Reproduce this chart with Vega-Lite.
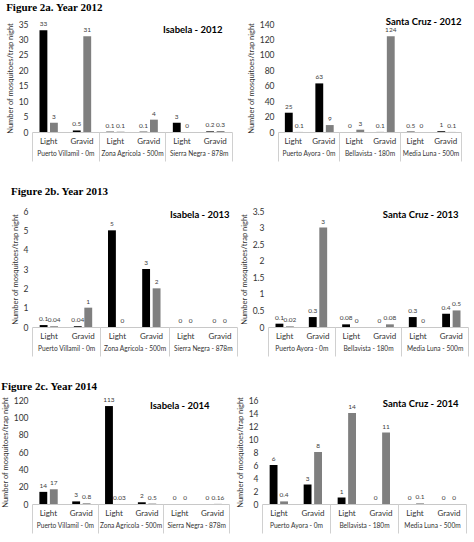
{
  "$schema": "https://vega.github.io/schema/vega-lite/v6.json",
  "padding": {"left": 1, "top": 1, "right": 2, "bottom": 2},
  "background": "white",
  "config": {
    "font": "Lato",
    "view": {"stroke": null},
    "axis": {"grid": false, "labelFont": "Lato", "titleFont": "Lato", "labelColor": "#333333", "titleColor": "#333333"},
    "axisY": {"domain": false, "ticks": false, "labelFontSize": 8.5, "titleFontSize": 7.5, "titleFontWeight": "normal", "labelPadding": 4, "titlePadding": 4, "labelOverlap": false, "format": "~r"},
    "title": {"font": "Lato", "fontSize": 9.5, "fontWeight": "bold", "color": "#000000"}
  },
  "datasets": {
    "i12": [
      {"site": "Puerto Villamil - 0m", "trap": "Light", "cat": "Puerto Villamil - 0m|Light", "s": "s1", "v": 33},
      {"site": "Puerto Villamil - 0m", "trap": "Light", "cat": "Puerto Villamil - 0m|Light", "s": "s2", "v": 3},
      {"site": "Puerto Villamil - 0m", "trap": "Gravid", "cat": "Puerto Villamil - 0m|Gravid", "s": "s1", "v": 0.5},
      {"site": "Puerto Villamil - 0m", "trap": "Gravid", "cat": "Puerto Villamil - 0m|Gravid", "s": "s2", "v": 31},
      {"site": "Zona Agricola - 500m", "trap": "Light", "cat": "Zona Agricola - 500m|Light", "s": "s1", "v": 0.1},
      {"site": "Zona Agricola - 500m", "trap": "Light", "cat": "Zona Agricola - 500m|Light", "s": "s2", "v": 0.1},
      {"site": "Zona Agricola - 500m", "trap": "Gravid", "cat": "Zona Agricola - 500m|Gravid", "s": "s1", "v": 0.1},
      {"site": "Zona Agricola - 500m", "trap": "Gravid", "cat": "Zona Agricola - 500m|Gravid", "s": "s2", "v": 4},
      {"site": "Sierra Negra - 878m", "trap": "Light", "cat": "Sierra Negra - 878m|Light", "s": "s1", "v": 3},
      {"site": "Sierra Negra - 878m", "trap": "Light", "cat": "Sierra Negra - 878m|Light", "s": "s2", "v": 0},
      {"site": "Sierra Negra - 878m", "trap": "Gravid", "cat": "Sierra Negra - 878m|Gravid", "s": "s1", "v": 0.2},
      {"site": "Sierra Negra - 878m", "trap": "Gravid", "cat": "Sierra Negra - 878m|Gravid", "s": "s2", "v": 0.3}
    ],
    "s12": [
      {"site": "Puerto Ayora - 0m", "trap": "Light", "cat": "Puerto Ayora - 0m|Light", "s": "s1", "v": 25},
      {"site": "Puerto Ayora - 0m", "trap": "Light", "cat": "Puerto Ayora - 0m|Light", "s": "s2", "v": 0.1},
      {"site": "Puerto Ayora - 0m", "trap": "Gravid", "cat": "Puerto Ayora - 0m|Gravid", "s": "s1", "v": 63},
      {"site": "Puerto Ayora - 0m", "trap": "Gravid", "cat": "Puerto Ayora - 0m|Gravid", "s": "s2", "v": 9},
      {"site": "Bellavista - 180m", "trap": "Light", "cat": "Bellavista - 180m|Light", "s": "s1", "v": 0},
      {"site": "Bellavista - 180m", "trap": "Light", "cat": "Bellavista - 180m|Light", "s": "s2", "v": 3},
      {"site": "Bellavista - 180m", "trap": "Gravid", "cat": "Bellavista - 180m|Gravid", "s": "s1", "v": 0.1},
      {"site": "Bellavista - 180m", "trap": "Gravid", "cat": "Bellavista - 180m|Gravid", "s": "s2", "v": 124},
      {"site": "Media Luna - 500m", "trap": "Light", "cat": "Media Luna - 500m|Light", "s": "s1", "v": 0.5},
      {"site": "Media Luna - 500m", "trap": "Light", "cat": "Media Luna - 500m|Light", "s": "s2", "v": 0},
      {"site": "Media Luna - 500m", "trap": "Gravid", "cat": "Media Luna - 500m|Gravid", "s": "s1", "v": 1},
      {"site": "Media Luna - 500m", "trap": "Gravid", "cat": "Media Luna - 500m|Gravid", "s": "s2", "v": 0.1}
    ],
    "i13": [
      {"site": "Puerto Villamil - 0m", "trap": "Light", "cat": "Puerto Villamil - 0m|Light", "s": "s1", "v": 0.1},
      {"site": "Puerto Villamil - 0m", "trap": "Light", "cat": "Puerto Villamil - 0m|Light", "s": "s2", "v": 0.04},
      {"site": "Puerto Villamil - 0m", "trap": "Gravid", "cat": "Puerto Villamil - 0m|Gravid", "s": "s1", "v": 0.04},
      {"site": "Puerto Villamil - 0m", "trap": "Gravid", "cat": "Puerto Villamil - 0m|Gravid", "s": "s2", "v": 1},
      {"site": "Zona Agricola - 500m", "trap": "Light", "cat": "Zona Agricola - 500m|Light", "s": "s1", "v": 5},
      {"site": "Zona Agricola - 500m", "trap": "Light", "cat": "Zona Agricola - 500m|Light", "s": "s2", "v": 0},
      {"site": "Zona Agricola - 500m", "trap": "Gravid", "cat": "Zona Agricola - 500m|Gravid", "s": "s1", "v": 3},
      {"site": "Zona Agricola - 500m", "trap": "Gravid", "cat": "Zona Agricola - 500m|Gravid", "s": "s2", "v": 2},
      {"site": "Sierra Negra - 878m", "trap": "Light", "cat": "Sierra Negra - 878m|Light", "s": "s1", "v": 0},
      {"site": "Sierra Negra - 878m", "trap": "Light", "cat": "Sierra Negra - 878m|Light", "s": "s2", "v": 0},
      {"site": "Sierra Negra - 878m", "trap": "Gravid", "cat": "Sierra Negra - 878m|Gravid", "s": "s1", "v": 0},
      {"site": "Sierra Negra - 878m", "trap": "Gravid", "cat": "Sierra Negra - 878m|Gravid", "s": "s2", "v": 0}
    ],
    "s13": [
      {"site": "Puerto Ayora - 0m", "trap": "Light", "cat": "Puerto Ayora - 0m|Light", "s": "s1", "v": 0.1},
      {"site": "Puerto Ayora - 0m", "trap": "Light", "cat": "Puerto Ayora - 0m|Light", "s": "s2", "v": 0.02},
      {"site": "Puerto Ayora - 0m", "trap": "Gravid", "cat": "Puerto Ayora - 0m|Gravid", "s": "s1", "v": 0.3},
      {"site": "Puerto Ayora - 0m", "trap": "Gravid", "cat": "Puerto Ayora - 0m|Gravid", "s": "s2", "v": 3},
      {"site": "Bellavista - 180m", "trap": "Light", "cat": "Bellavista - 180m|Light", "s": "s1", "v": 0.08},
      {"site": "Bellavista - 180m", "trap": "Light", "cat": "Bellavista - 180m|Light", "s": "s2", "v": 0},
      {"site": "Bellavista - 180m", "trap": "Gravid", "cat": "Bellavista - 180m|Gravid", "s": "s1", "v": 0},
      {"site": "Bellavista - 180m", "trap": "Gravid", "cat": "Bellavista - 180m|Gravid", "s": "s2", "v": 0.08},
      {"site": "Media Luna - 500m", "trap": "Light", "cat": "Media Luna - 500m|Light", "s": "s1", "v": 0.3},
      {"site": "Media Luna - 500m", "trap": "Light", "cat": "Media Luna - 500m|Light", "s": "s2", "v": 0},
      {"site": "Media Luna - 500m", "trap": "Gravid", "cat": "Media Luna - 500m|Gravid", "s": "s1", "v": 0.4},
      {"site": "Media Luna - 500m", "trap": "Gravid", "cat": "Media Luna - 500m|Gravid", "s": "s2", "v": 0.5}
    ],
    "i14": [
      {"site": "Puerto Villamil - 0m", "trap": "Light", "cat": "Puerto Villamil - 0m|Light", "s": "s1", "v": 14},
      {"site": "Puerto Villamil - 0m", "trap": "Light", "cat": "Puerto Villamil - 0m|Light", "s": "s2", "v": 17},
      {"site": "Puerto Villamil - 0m", "trap": "Gravid", "cat": "Puerto Villamil - 0m|Gravid", "s": "s1", "v": 3},
      {"site": "Puerto Villamil - 0m", "trap": "Gravid", "cat": "Puerto Villamil - 0m|Gravid", "s": "s2", "v": 0.8},
      {"site": "Zona Agricola - 500m", "trap": "Light", "cat": "Zona Agricola - 500m|Light", "s": "s1", "v": 113},
      {"site": "Zona Agricola - 500m", "trap": "Light", "cat": "Zona Agricola - 500m|Light", "s": "s2", "v": 0.03},
      {"site": "Zona Agricola - 500m", "trap": "Gravid", "cat": "Zona Agricola - 500m|Gravid", "s": "s1", "v": 2},
      {"site": "Zona Agricola - 500m", "trap": "Gravid", "cat": "Zona Agricola - 500m|Gravid", "s": "s2", "v": 0.5},
      {"site": "Sierra Negra - 878m", "trap": "Light", "cat": "Sierra Negra - 878m|Light", "s": "s1", "v": 0},
      {"site": "Sierra Negra - 878m", "trap": "Light", "cat": "Sierra Negra - 878m|Light", "s": "s2", "v": 0},
      {"site": "Sierra Negra - 878m", "trap": "Gravid", "cat": "Sierra Negra - 878m|Gravid", "s": "s1", "v": 0},
      {"site": "Sierra Negra - 878m", "trap": "Gravid", "cat": "Sierra Negra - 878m|Gravid", "s": "s2", "v": 0.16}
    ],
    "s14": [
      {"site": "Puerto Ayora - 0m", "trap": "Light", "cat": "Puerto Ayora - 0m|Light", "s": "s1", "v": 6},
      {"site": "Puerto Ayora - 0m", "trap": "Light", "cat": "Puerto Ayora - 0m|Light", "s": "s2", "v": 0.4},
      {"site": "Puerto Ayora - 0m", "trap": "Gravid", "cat": "Puerto Ayora - 0m|Gravid", "s": "s1", "v": 3},
      {"site": "Puerto Ayora - 0m", "trap": "Gravid", "cat": "Puerto Ayora - 0m|Gravid", "s": "s2", "v": 8},
      {"site": "Bellavista - 180m", "trap": "Light", "cat": "Bellavista - 180m|Light", "s": "s1", "v": 1},
      {"site": "Bellavista - 180m", "trap": "Light", "cat": "Bellavista - 180m|Light", "s": "s2", "v": 14},
      {"site": "Bellavista - 180m", "trap": "Gravid", "cat": "Bellavista - 180m|Gravid", "s": "s1", "v": 0},
      {"site": "Bellavista - 180m", "trap": "Gravid", "cat": "Bellavista - 180m|Gravid", "s": "s2", "v": 11},
      {"site": "Media Luna - 500m", "trap": "Light", "cat": "Media Luna - 500m|Light", "s": "s1", "v": 0},
      {"site": "Media Luna - 500m", "trap": "Light", "cat": "Media Luna - 500m|Light", "s": "s2", "v": 0.1},
      {"site": "Media Luna - 500m", "trap": "Gravid", "cat": "Media Luna - 500m|Gravid", "s": "s1", "v": 0},
      {"site": "Media Luna - 500m", "trap": "Gravid", "cat": "Media Luna - 500m|Gravid", "s": "s2", "v": 0}
    ]
  },
  "vconcat": [
    {
      "title": {"text": "Figure 2a. Year 2012", "anchor": "start", "font": "Liberation Serif", "fontSize": 11, "fontWeight": "bold", "offset": 4},
      "spacing": 14,
      "hconcat": [
        {
          "width": 200, "height": 108,
          "data": {"name": "i12"},
          "title": {"text": "Isabela - 2012", "anchor": "end", "offset": -14, "dx": -10},
          "layer": [
            {
              "encoding": {
                "x": {"field": "cat", "type": "nominal", "sort": null, "scale": {"paddingInner": 0.45, "paddingOuter": 0.225}, "axis": {"title": null, "labelExpr": "split(datum.value,'|')[1]", "labelAngle": 0, "ticks": false, "domainColor": "#c8c8c8", "labelPadding": 5, "labelFontSize": 8}},
                "xOffset": {"field": "s", "type": "nominal", "scale": {"paddingInner": 0.25}},
                "y": {"field": "v", "type": "quantitative", "scale": {"domain": [0, 35], "nice": false}, "axis": {"title": "Number of mosquitoes/trap night", "values": [0, 5, 10, 15, 20, 25, 30, 35]}}
              },
              "layer": [
                {"mark": {"type": "bar"},
                 "encoding": {"color": {"field": "s", "type": "nominal", "scale": {"domain": ["s1", "s2"], "range": ["#000000", "#7f7f7f"]}, "legend": null}}},
                {"mark": {"type": "text", "dy": -6, "fontSize": 6.5, "color": "#404040"},
                 "encoding": {"text": {"field": "v", "type": "nominal"}}}
              ]
            },
            {"mark": {"type": "text"},
             "encoding": {
               "x": {"field": "site", "type": "nominal", "sort": null, "scale": {"paddingInner": 0, "paddingOuter": 0}, "axis": {"title": null, "orient": "bottom", "domain": false, "tickBand": "extent", "tickSize": 29, "tickColor": "#d0d0d0", "labelPadding": -11, "labelFontSize": 6.6, "labelAngle": 0}},
               "text": {"value": ""}}}
          ],
          "resolve": {"scale": {"x": "independent"}}
        },
        {
          "width": 183, "height": 108,
          "data": {"name": "s12"},
          "title": {"text": "Santa Cruz - 2012", "anchor": "end", "offset": -6, "dx": 0},
          "layer": [
            {
              "encoding": {
                "x": {"field": "cat", "type": "nominal", "sort": null, "scale": {"paddingInner": 0.45, "paddingOuter": 0.225}, "axis": {"title": null, "labelExpr": "split(datum.value,'|')[1]", "labelAngle": 0, "ticks": false, "domainColor": "#c8c8c8", "labelPadding": 5, "labelFontSize": 8}},
                "xOffset": {"field": "s", "type": "nominal", "scale": {"paddingInner": 0.25}},
                "y": {"field": "v", "type": "quantitative", "scale": {"domain": [0, 140], "nice": false}, "axis": {"title": "Number of mosquitoes/trap night", "values": [0, 20, 40, 60, 80, 100, 120, 140]}}
              },
              "layer": [
                {"mark": {"type": "bar"},
                 "encoding": {"color": {"field": "s", "type": "nominal", "scale": {"domain": ["s1", "s2"], "range": ["#000000", "#7f7f7f"]}, "legend": null}}},
                {"mark": {"type": "text", "dy": -6, "fontSize": 6.5, "color": "#404040"},
                 "encoding": {"text": {"field": "v", "type": "nominal"}}}
              ]
            },
            {"mark": {"type": "text"},
             "encoding": {
               "x": {"field": "site", "type": "nominal", "sort": null, "scale": {"paddingInner": 0, "paddingOuter": 0}, "axis": {"title": null, "orient": "bottom", "domain": false, "tickBand": "extent", "tickSize": 29, "tickColor": "#d0d0d0", "labelPadding": -11, "labelFontSize": 6.6, "labelAngle": 0}},
               "text": {"value": ""}}}
          ],
          "resolve": {"scale": {"x": "independent"}}
        }
      ]
    },
    {
      "title": {"text": "Figure 2b. Year 2013", "anchor": "start", "font": "Liberation Serif", "fontSize": 11, "fontWeight": "bold", "offset": 10},
      "spacing": 2,
      "hconcat": [
        {
          "width": 205, "height": 116,
          "data": {"name": "i13"},
          "title": {"text": "Isabela - 2013", "anchor": "end", "offset": -12, "dx": -8},
          "layer": [
            {
              "encoding": {
                "x": {"field": "cat", "type": "nominal", "sort": null, "scale": {"paddingInner": 0.45, "paddingOuter": 0.225}, "axis": {"title": null, "labelExpr": "split(datum.value,'|')[1]", "labelAngle": 0, "ticks": false, "domainColor": "#c8c8c8", "labelPadding": 5, "labelFontSize": 8}},
                "xOffset": {"field": "s", "type": "nominal", "scale": {"paddingInner": 0.25}},
                "y": {"field": "v", "type": "quantitative", "scale": {"domain": [0, 6], "nice": false}, "axis": {"title": "Number of mosquitoes/trap night", "values": [0, 1, 2, 3, 4, 5, 6]}}
              },
              "layer": [
                {"mark": {"type": "bar"},
                 "encoding": {"color": {"field": "s", "type": "nominal", "scale": {"domain": ["s1", "s2"], "range": ["#000000", "#7f7f7f"]}, "legend": null}}},
                {"mark": {"type": "text", "dy": -6, "fontSize": 6.5, "color": "#404040"},
                 "encoding": {"text": {"field": "v", "type": "nominal"}}}
              ]
            },
            {"mark": {"type": "text"},
             "encoding": {
               "x": {"field": "site", "type": "nominal", "sort": null, "scale": {"paddingInner": 0, "paddingOuter": 0}, "axis": {"title": null, "orient": "bottom", "domain": false, "tickBand": "extent", "tickSize": 29, "tickColor": "#d0d0d0", "labelPadding": -11, "labelFontSize": 6.6, "labelAngle": 0}},
               "text": {"value": ""}}}
          ],
          "resolve": {"scale": {"x": "independent"}}
        },
        {
          "width": 200, "height": 116,
          "data": {"name": "s13"},
          "title": {"text": "Santa Cruz - 2013", "anchor": "end", "offset": -12, "dx": -10},
          "layer": [
            {
              "encoding": {
                "x": {"field": "cat", "type": "nominal", "sort": null, "scale": {"paddingInner": 0.45, "paddingOuter": 0.225}, "axis": {"title": null, "labelExpr": "split(datum.value,'|')[1]", "labelAngle": 0, "ticks": false, "domainColor": "#c8c8c8", "labelPadding": 5, "labelFontSize": 8}},
                "xOffset": {"field": "s", "type": "nominal", "scale": {"paddingInner": 0.25}},
                "y": {"field": "v", "type": "quantitative", "scale": {"domain": [0, 3.5], "nice": false}, "axis": {"title": "Number of mosquitoes/trap night", "values": [0, 0.5, 1, 1.5, 2, 2.5, 3, 3.5]}}
              },
              "layer": [
                {"mark": {"type": "bar"},
                 "encoding": {"color": {"field": "s", "type": "nominal", "scale": {"domain": ["s1", "s2"], "range": ["#000000", "#7f7f7f"]}, "legend": null}}},
                {"mark": {"type": "text", "dy": -6, "fontSize": 6.5, "color": "#404040"},
                 "encoding": {"text": {"field": "v", "type": "nominal"}}}
              ]
            },
            {"mark": {"type": "text"},
             "encoding": {
               "x": {"field": "site", "type": "nominal", "sort": null, "scale": {"paddingInner": 0, "paddingOuter": 0}, "axis": {"title": null, "orient": "bottom", "domain": false, "tickBand": "extent", "tickSize": 29, "tickColor": "#d0d0d0", "labelPadding": -11, "labelFontSize": 6.6, "labelAngle": 0}},
               "text": {"value": ""}}}
          ],
          "resolve": {"scale": {"x": "independent"}}
        }
      ]
    },
    {
      "title": {"text": "Figure 2c. Year 2014", "anchor": "start", "font": "Liberation Serif", "fontSize": 11, "fontWeight": "bold", "offset": 4},
      "spacing": 6,
      "hconcat": [
        {
          "width": 197, "height": 104,
          "data": {"name": "i14"},
          "title": {"text": "Isabela - 2014", "anchor": "end", "offset": -14, "dx": -20},
          "layer": [
            {
              "encoding": {
                "x": {"field": "cat", "type": "nominal", "sort": null, "scale": {"paddingInner": 0.45, "paddingOuter": 0.225}, "axis": {"title": null, "labelExpr": "split(datum.value,'|')[1]", "labelAngle": 0, "ticks": false, "domainColor": "#c8c8c8", "labelPadding": 5, "labelFontSize": 8}},
                "xOffset": {"field": "s", "type": "nominal", "scale": {"paddingInner": 0.25}},
                "y": {"field": "v", "type": "quantitative", "scale": {"domain": [0, 120], "nice": false}, "axis": {"title": "Number of mosquitoes/trap night", "values": [0, 20, 40, 60, 80, 100, 120]}}
              },
              "layer": [
                {"mark": {"type": "bar"},
                 "encoding": {"color": {"field": "s", "type": "nominal", "scale": {"domain": ["s1", "s2"], "range": ["#000000", "#7f7f7f"]}, "legend": null}}},
                {"mark": {"type": "text", "dy": -6, "fontSize": 6.5, "color": "#404040"},
                 "encoding": {"text": {"field": "v", "type": "nominal"}}}
              ]
            },
            {"mark": {"type": "text"},
             "encoding": {
               "x": {"field": "site", "type": "nominal", "sort": null, "scale": {"paddingInner": 0, "paddingOuter": 0}, "axis": {"title": null, "orient": "bottom", "domain": false, "tickBand": "extent", "tickSize": 29, "tickColor": "#d0d0d0", "labelPadding": -11, "labelFontSize": 6.6, "labelAngle": 0}},
               "text": {"value": ""}}}
          ],
          "resolve": {"scale": {"x": "independent"}}
        },
        {
          "width": 204, "height": 104,
          "data": {"name": "s14"},
          "title": {"text": "Santa Cruz - 2014", "anchor": "end", "offset": -12, "dx": -8},
          "layer": [
            {
              "encoding": {
                "x": {"field": "cat", "type": "nominal", "sort": null, "scale": {"paddingInner": 0.45, "paddingOuter": 0.225}, "axis": {"title": null, "labelExpr": "split(datum.value,'|')[1]", "labelAngle": 0, "ticks": false, "domainColor": "#c8c8c8", "labelPadding": 5, "labelFontSize": 8}},
                "xOffset": {"field": "s", "type": "nominal", "scale": {"paddingInner": 0.25}},
                "y": {"field": "v", "type": "quantitative", "scale": {"domain": [0, 16], "nice": false}, "axis": {"title": "Number of mosquitoes/trap night", "values": [0, 2, 4, 6, 8, 10, 12, 14, 16]}}
              },
              "layer": [
                {"mark": {"type": "bar"},
                 "encoding": {"color": {"field": "s", "type": "nominal", "scale": {"domain": ["s1", "s2"], "range": ["#000000", "#7f7f7f"]}, "legend": null}}},
                {"mark": {"type": "text", "dy": -6, "fontSize": 6.5, "color": "#404040"},
                 "encoding": {"text": {"field": "v", "type": "nominal"}}}
              ]
            },
            {"mark": {"type": "text"},
             "encoding": {
               "x": {"field": "site", "type": "nominal", "sort": null, "scale": {"paddingInner": 0, "paddingOuter": 0}, "axis": {"title": null, "orient": "bottom", "domain": false, "tickBand": "extent", "tickSize": 29, "tickColor": "#d0d0d0", "labelPadding": -11, "labelFontSize": 6.6, "labelAngle": 0}},
               "text": {"value": ""}}}
          ],
          "resolve": {"scale": {"x": "independent"}}
        }
      ]
    }
  ],
  "spacing": 24
}
